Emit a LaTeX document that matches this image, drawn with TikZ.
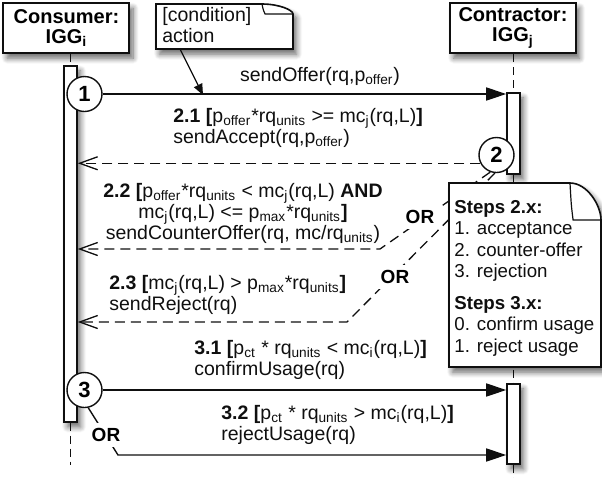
\documentclass[tikz,border=0pt]{standalone}
\usepackage{fontspec}
\setmainfont{Liberation Sans}
\usetikzlibrary{arrows.meta,positioning,calc,shadows.blur}
\definecolor{SeqInk}{RGB}{15,15,15}
\newcommand{\sbs}[1]{\textsubscript{#1}}
\tikzset{
  softshadow/.style={blur shadow={shadow xshift=1.8pt, shadow yshift=-2.6pt,
                shadow blur radius=2.8pt, shadow opacity=60, shadow blur steps=8}},
  lifebox/.style={draw=SeqInk, line width=1pt, fill=white, softshadow, align=center,
                font=\bfseries\fontsize{10}{10}\selectfont, minimum width=63pt,
                minimum height=25pt, inner sep=0pt},
  actbar/.style={draw=SeqInk, line width=0.75pt, fill=white, softshadow,
                minimum width=6.5pt, inner sep=0pt},
  lifeline/.style={draw=SeqInk, line width=0.6pt, dash pattern=on 4pt off 2.5pt},
  stepmark/.style={circle, draw=SeqInk, fill=white, line width=0.7pt, minimum size=17.5pt,
                inner sep=0pt, font=\bfseries\fontsize{11}{11}\selectfont},
  msg/.style={-{Triangle[length=10pt,width=6.5pt]}, line width=0.7pt, SeqInk},
  reply/.style={-{Straight Barb[length=9pt,width=6.5pt]}, line width=0.65pt, SeqInk,
                dash pattern=on 5pt off 3pt},
  pointer/.style={-{Triangle[length=5.5pt,width=4.5pt]}, line width=0.6pt, SeqInk},
  msglabel/.style={font=\fontsize{9.75}{10.6}\selectfont, inner sep=0pt, text=SeqInk},
  orlabel/.style={font=\bfseries\fontsize{9.5}{10}\selectfont, fill=white, inner sep=2.5pt},
  notepath/.style={draw=SeqInk, line width=0.8pt, fill=white, softshadow},
}

\begin{document}
\begin{tikzpicture}[x=0.5pt,y=-0.5pt]
  \useasboundingbox (0,0) rectangle (602,478);

  % nota com canto dobrado: canto NW, canto SE, largura e altura da dobra
  \newcommand{\notecurl}[4]{%
    \draw[notepath] (#1 |- #2) -- (#1) -- ($(#1 -| #2)+(-#3,0)$) coordinate (#1-fa)
      .. controls +(0.55*#3,0) and +(0,-0.4*#4) .. ($(#1 -| #2)+(0,#4)$) coordinate (#1-fb)
      -- (#2) -- cycle;
    \draw[SeqInk, line width=0.6pt] (#1-fa) .. controls +(0.04*#3,0.6*#4) ..
      ($(#1-fa)+(0.1*#3,#4)$) -- (#1-fb);}

  % cabeçalhos das linhas de vida
  \node[lifebox] (cons) at (66.5,28) {Consumer:\\IGG\sbs{i}};
  \node[lifebox] (contr) at (513,28) {Contractor:\\IGG\sbs{j}};

  % barras de ativação
  \node[actbar, minimum height=178pt, anchor=north] (barI) at (70.5,65) {};
  \node[actbar, minimum height=40.5pt, anchor=north] (barJa) at (513.5,92) {};
  \node[actbar, minimum height=40pt, anchor=north] (barJb) at (513.5,383) {};

  \coordinate (endI) at (70.5,465);
  \coordinate (endJ) at (513.5,478);
  \draw[lifeline] (barI.north |- cons.south) -- (barI.north);
  \draw[lifeline] (barI.south) -- (endI);
  \draw[lifeline] (barJa.north |- contr.south) -- (barJa.north);
  \draw[lifeline] (barJa.south) -- (barJb.north);
  \draw[lifeline] (barJb.south) -- (endJ);

  % marcas de passo
  \node[stepmark] (c1) at (84.5,94) {1};
  \node[stepmark] (c2) at (496.5,155) {2};
  \node[stepmark] (c3) at (84.5,390) {3};

  % mensagens
  \draw[msg] (c1.east) -- (c1.east -| barJa.west);
  \draw[reply] (c2.207) -- (c2.207 -| barI.east);
  \coordinate (kneeB) at (380,249);
  \draw[reply] (c2.250) -- (kneeB) -- (kneeB -| barI.east);
  \coordinate (kneeC) at (347,322);
  \draw[reply] (c2.265) -- (kneeC) -- (kneeC -| barI.east);
  \draw[msg] (c3.east) -- (c3.east -| barJb.west);
  \coordinate (kneeD) at (118,455);
  \draw[msg] (c3.-78) -- (kneeD) -- (kneeD -| barJb.west);

  \node[orlabel] (orB) at (420,217) {OR};
  \node[orlabel] (orC) at (395,277) {OR};
  \node[orlabel] (orD) at (106,435) {OR};

  % rótulos das mensagens
  \node[msglabel, anchor=north] (lOffer) at (320,67) {sendOffer(rq,p\sbs{offer})};
  \node[msglabel, anchor=north west, align=left] (lAccept) at (173,108)
    {\textbf{2.1 [}p\sbs{offer}*rq\sbs{units} >= mc\sbs{j}(rq,L)\textbf{]}\\sendAccept(rq,p\sbs{offer})};
  \node[msglabel, anchor=north, align=center] (lCounter) at (243,183)
    {\textbf{2.2 [}p\sbs{offer}*rq\sbs{units} < mc\sbs{j}(rq,L) \textbf{AND}\\
     mc\sbs{j}(rq,L) <= p\sbs{max}*rq\sbs{units}\textbf{]}\\
     sendCounterOffer(rq, mc/rq\sbs{units})};
  \node[msglabel, anchor=north west, align=left] (lReject) at (109,275)
    {\textbf{2.3 [}mc\sbs{j}(rq,L) > p\sbs{max}*rq\sbs{units}\textbf{]}\\sendReject(rq)};
  \node[msglabel, anchor=north west, align=left] (lConfirm) at (194,340)
    {\textbf{3.1 [}p\sbs{ct} * rq\sbs{units} < mc\sbs{i}(rq,L)\textbf{]}\\confirmUsage(rq)};
  \node[msglabel, anchor=north west, align=left] (lRejUse) at (221,405)
    {\textbf{3.2 [}p\sbs{ct} * rq\sbs{units} > mc\sbs{i}(rq,L)\textbf{]}\\rejectUsage(rq)};

  % nota de legenda [condição] ação
  \coordinate (hintNW) at (156,4);
  \coordinate (hintSE) at (293,49);
  \notecurl{hintNW}{hintSE}{31}{10}
  \node[msglabel, anchor=north west, align=left] (hintTxt) at (162,7) {[condition]\\action};
  \coordinate (hintFoot) at (180,49);
  \coordinate (hintTip) at (203,95);
  \draw[pointer] (hintFoot) -- (hintTip);

  % nota dos passos
  \coordinate (stepsNW) at (449,183);
  \coordinate (stepsSE) at (601,367);
  \notecurl{stepsNW}{stepsSE}{31}{37}
  \node[msglabel, font=\fontsize{9.35}{10.75}\selectfont, anchor=north west, align=left]
    (stepsTxt) at (454,200)
    {\textbf{Steps 2.x:}\\1. acceptance\\2. counter-offer\\3. rejection\\[5pt]
     \textbf{Steps 3.x:}\\0. confirm usage\\1. reject usage};
\end{tikzpicture}
\end{document}
